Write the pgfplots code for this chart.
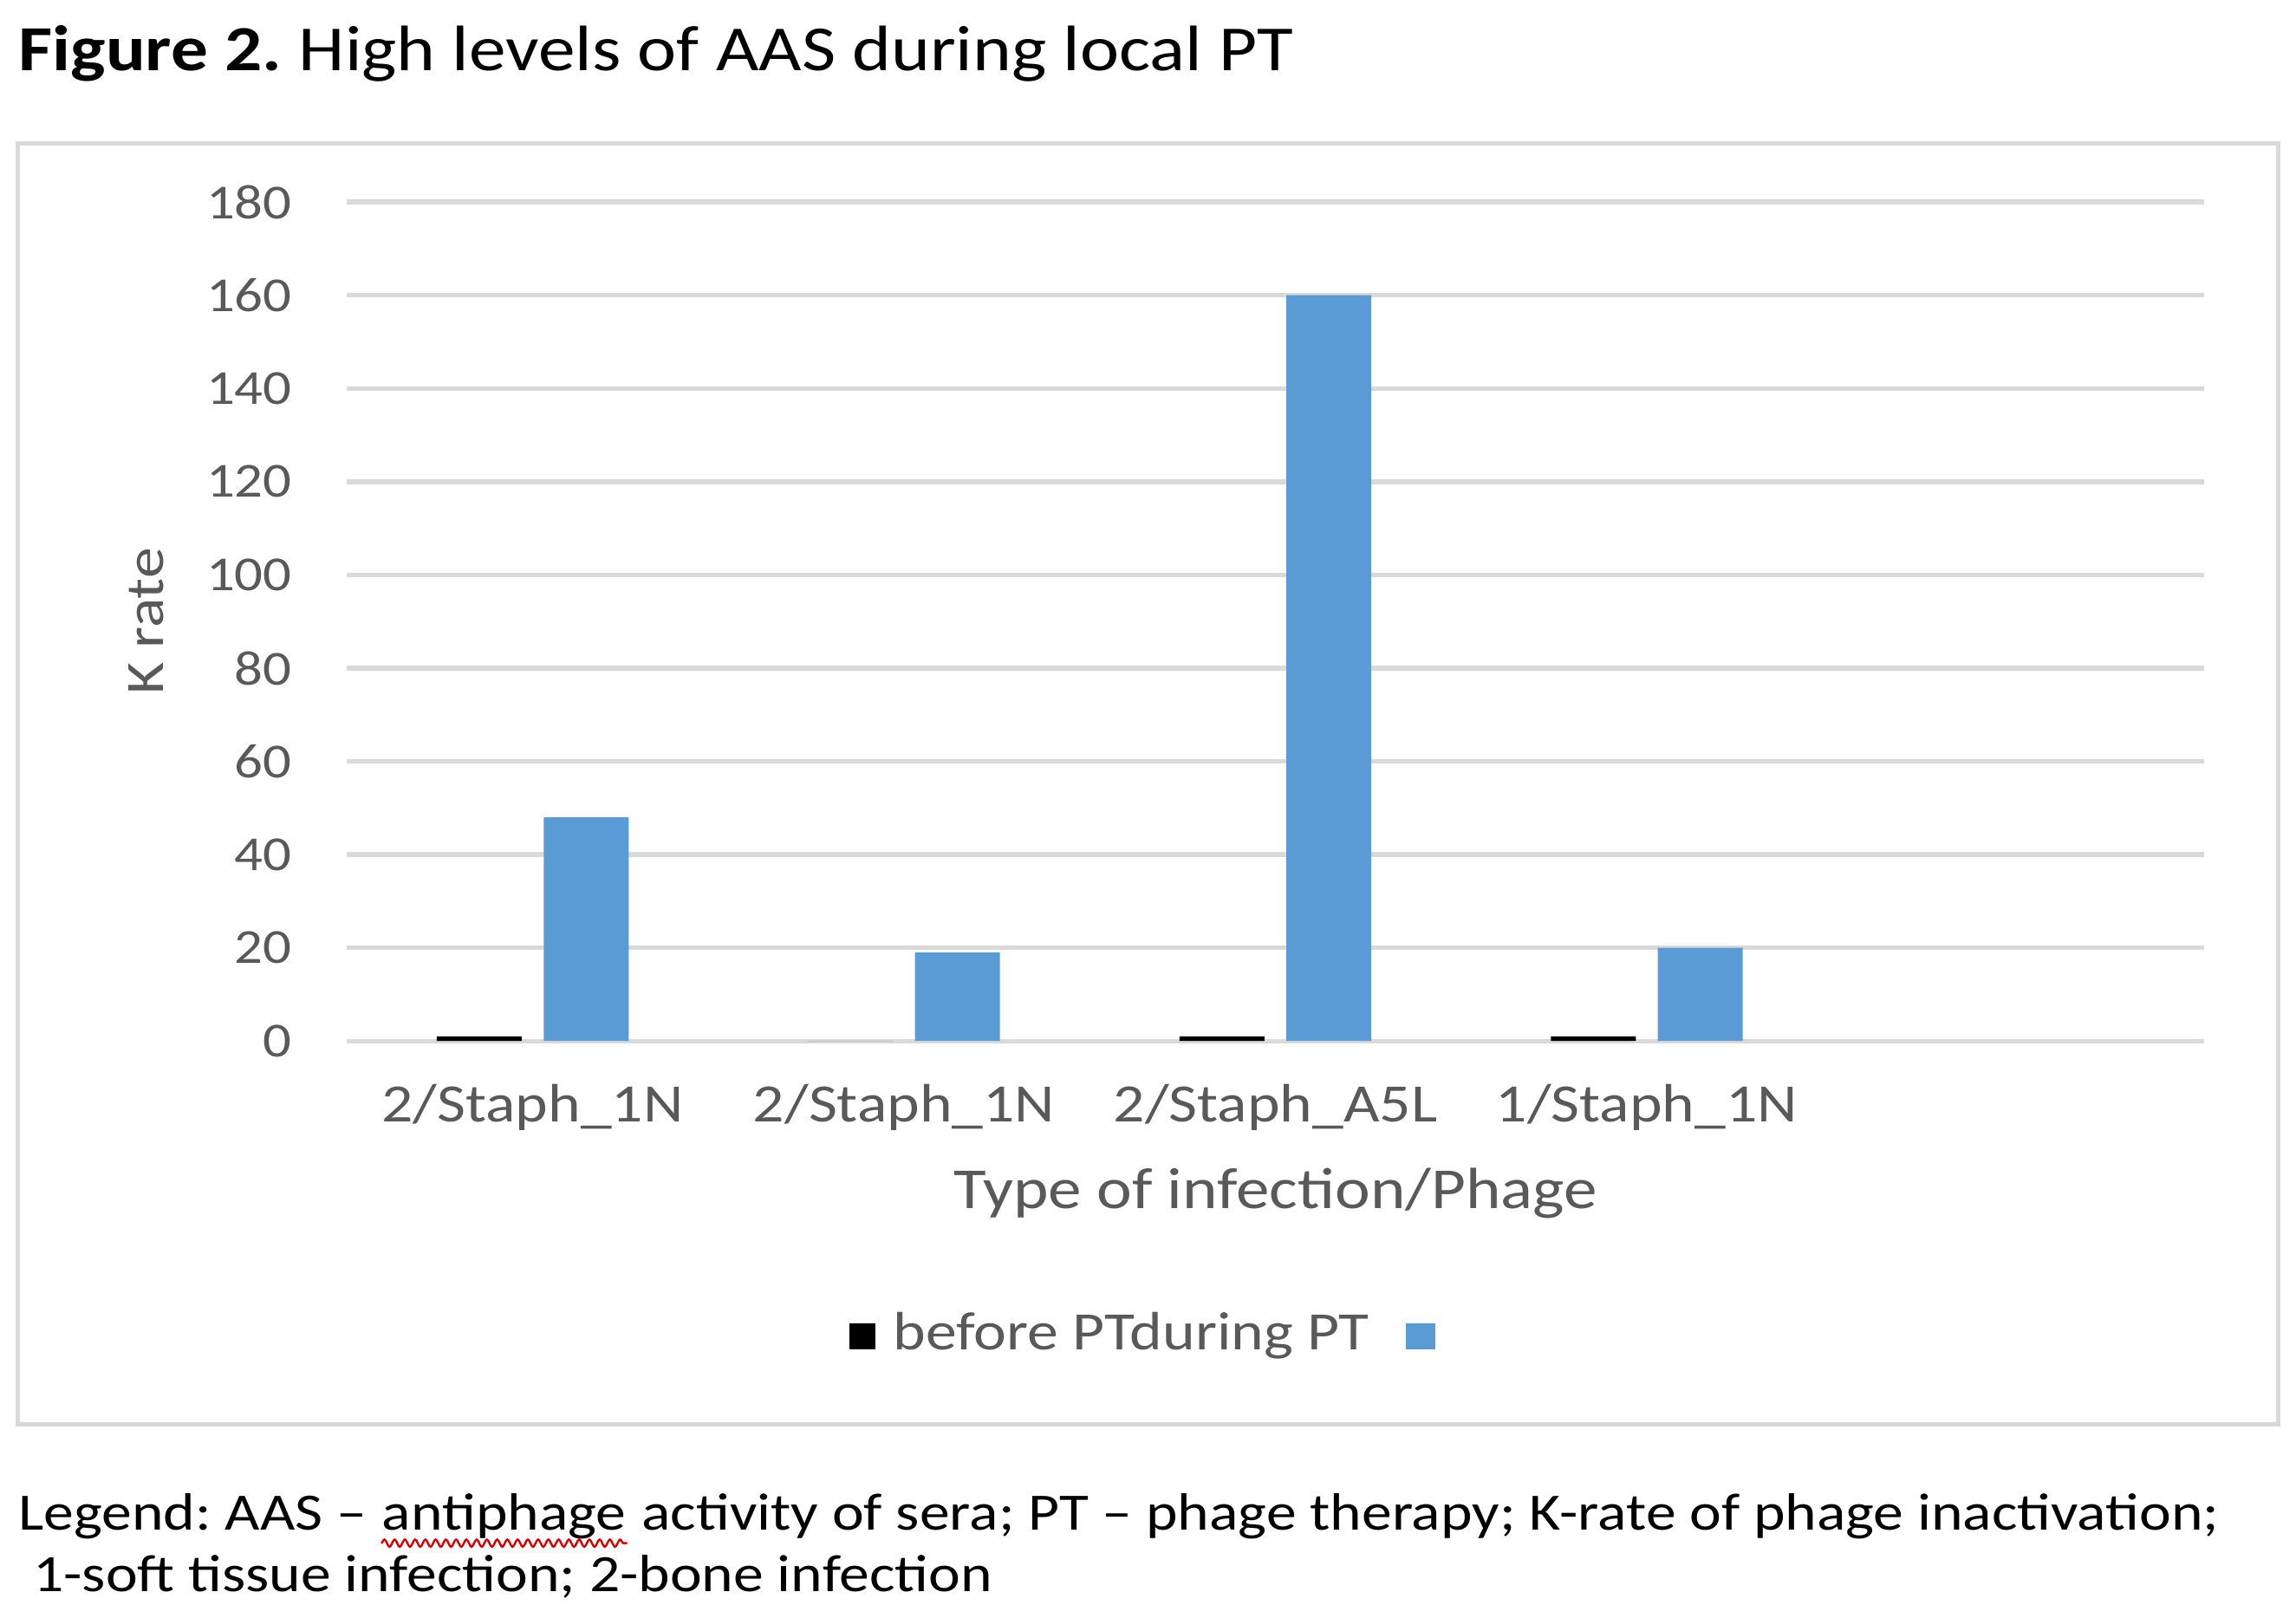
\documentclass[border=0pt]{standalone}
\usepackage{fontspec}
\setmainfont{Carlito}[FakeStretch=1.15]
\usepackage{pgfplots}
\pgfplotsset{compat=1.18}
\usetikzlibrary{decorations.pathmorphing}
\definecolor{barblue}{HTML}{5B9BD5}
\definecolor{txtgray}{HTML}{595959}
\definecolor{gridgray}{HTML}{D9D9D9}
\frenchspacing
\begin{document}
\begin{tikzpicture}
\begin{axis}[
  at={(0,0)},anchor=south west,
  scale only axis,width=12.68cm,height=5.73cm,
  ymin=0,ymax=180,ytick={0,20,...,180},
  xmin=-0.5,xmax=4.5,xtick={0,1,2,3},
  xticklabels={2/Staph\_1N,2/Staph\_1N,2/Staph\_A5L,1/Staph\_1N},
  ybar=0.15cm,bar width=0.58cm,
  axis line style={draw=none},major tick length=0,
  ymajorgrids,grid style={draw=gridgray,line width=0.9pt},
  /pgf/number format/assume math mode=true,
  tick label style={text=txtgray},
  yticklabel style={font=\fontsize{9.5}{11}\selectfont,anchor=east,inner sep=0pt,xshift=-0.37cm},
  xticklabel style={font=\fontsize{10.5}{12}\selectfont,anchor=north,inner sep=0pt,yshift=-0.29cm},
  xlabel={Type of infection/Phage},
  xlabel style={at={(axis description cs:0.5,-0.1815)},anchor=center,font=\fontsize{11.3}{13}\selectfont,text=txtgray},
  ylabel={K rate},
  ylabel style={at={(axis description cs:-0.108,0.5)},anchor=center,font=\fontsize{10.5}{12}\selectfont,text=txtgray},
]
\addplot[fill=black,draw=none] coordinates {(0,1)(1,0)(2,1)(3,1)};
\addplot[fill=barblue,draw=none] coordinates {(0,48)(1,19)(2,160)(3,20)};
\end{axis}
% chart frame
\draw[gridgray,line width=0.8pt] (-2.25,-2.62) rectangle (13.19,6.13);
% title
\node[anchor=base west,inner sep=0pt] at (-2.25,6.63) {\fontsize{12.5}{14}\selectfont\textbf{Figure 2.} High levels of AAS during local PT};
% legend as in the source
\node[text=txtgray,font=\fontsize{10.5}{12}\selectfont,inner sep=0pt] at (5.43,-2.01)
  {\textcolor{black}{\rule{0.18cm}{0.18cm}}\hspace{0.12cm}before PTduring PT\hspace{0.25cm}\textcolor{barblue}{\rule{0.2cm}{0.18cm}}};
% caption below
\begin{scope}[every node/.style={inner sep=0pt,anchor=base west,font=\fontsize{10.2}{12}\selectfont}]
\node (a) at (-2.25,-3.34) {Legend: AAS --\mbox{}\ \mbox{}};
\node (b) at (a.base east) {antiphage};
\node at (b.base east) {\mbox{}\ activity of sera; PT -- phage therapy; K-rate of phage inactivation;};
\node at (-2.15,-3.76) {1-soft tissue infection; 2-bone infection};
\draw[red!85!black,line width=0.4pt,decorate,decoration={snake,amplitude=0.25mm,segment length=0.7mm}]
  ([yshift=-0.09cm]b.base west) -- ([yshift=-0.09cm]b.base east);
\end{scope}
\pgfresetboundingbox
\useasboundingbox (-2.37,-3.94) rectangle (13.31,7.11);
\end{tikzpicture}
\end{document}
